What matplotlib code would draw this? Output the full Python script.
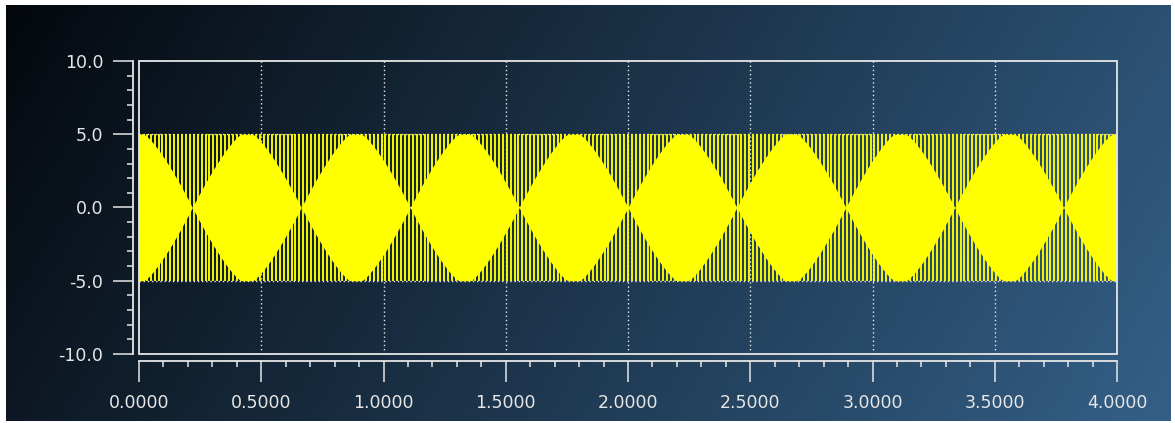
import numpy as np
import matplotlib
matplotlib.use("Agg")
import matplotlib.pyplot as plt
from matplotlib.patches import Rectangle
from matplotlib.ticker import MultipleLocator, FormatStrFormatter, FixedLocator

# ---------------- data ----------------
X_TICKS = [0.0, 0.5, 1.0, 1.5, 2.0, 2.5, 3.0, 3.5, 4.0]
Y_TICKS = [-10.0, -5.0, 0.0, 5.0, 10.0]
X_RANGE = [0.0, 4.0]
Y_RANGE = [-10.0, 10.0]
AMPLITUDE = 5.0            # signal amplitude
SAMPLE_SPACING = 0.016     # x distance between successive signal peaks (stripes)
BEAT_PERIOD = 0.4454       # distance between the aliasing "waists"
BEAT_NODE = 2.0            # x position of one waist
BEAT_RAMP = 0.20           # x distance from a waist to where the band is full again
RAMP_SHAPE = 1.3           # curvature of the band edge

# ---------------- figure ----------------
W, H = 1175, 423
fig = plt.figure(figsize=(W / 100, H / 100), dpi=100, facecolor="white")

# background gradient (whole widget)
gx0, gx1, gy0, gy1 = 6, 1171, 5, 421
bg = fig.add_axes([gx0 / W, (H - gy1) / H, (gx1 - gx0) / W, (gy1 - gy0) / H], zorder=0)
u = np.linspace(0, 1, 600)[None, :]
v = np.linspace(0, 1, 200)[:, None]
t = np.clip(0.82 * u + 0.18 * v, 0, 1)
c0 = np.array([4, 8, 13]) / 255.0
c1 = np.array([52, 96, 136]) / 255.0
img = c0[None, None, :] + (c1 - c0)[None, None, :] * t[:, :, None]
bg.imshow(img, aspect="auto", extent=[0, 1, 0, 1], interpolation="bilinear")
bg.set_axis_off()

# plot canvas
cl, cr, ct, cb = 139, 1117, 61, 354
ax = fig.add_axes([cl / W, (H - cb) / H, (cr - cl) / W, (cb - ct) / H], zorder=1)
ax.patch.set_alpha(0)
ax.set_xlim(*X_RANGE)
ax.set_ylim(*Y_RANGE)

fg = (0.9, 0.9, 0.9)
yellow = (1.0, 1.0, 0.0)

# grid behind the curve
for xv in X_TICKS[1:-1]:
    ax.axvline(xv, color=fg, lw=1.0, ls=(0, (1, 2)), zorder=1)
for yv in Y_TICKS[1:-1]:
    ax.axhline(yv, color=fg, lw=1.0, ls=(0, (1, 2)), zorder=1)

# signal: aliased high-frequency sine (peaks + beat envelope)
x_peaks = np.arange(X_RANGE[0], X_RANGE[1] + 1e-9, SAMPLE_SPACING)
env_x = np.linspace(X_RANGE[0], X_RANGE[1], 4000)
phase = ((env_x - BEAT_NODE) / BEAT_PERIOD + 0.5) % 1.0 - 0.5
dist = np.abs(phase) * BEAT_PERIOD
s = np.minimum(1.0, dist / BEAT_RAMP)
env = AMPLITUDE * (1.0 - (1.0 - s) ** RAMP_SHAPE)
ax.fill_between(env_x, -env, env, color=yellow, lw=0, zorder=2)
ax.vlines(x_peaks, -AMPLITUDE, AMPLITUDE, color=yellow, lw=1.35, zorder=3)

# canvas frame
ax.add_patch(Rectangle((0, 0), 1, 1, transform=ax.transAxes, fill=False,
                       edgecolor=fg, lw=1.3, zorder=5, clip_on=False))

# axes (backbones detached from canvas)
for sp in ["top", "right"]:
    ax.spines[sp].set_visible(False)
ax.spines["left"].set_position(("outward", 4.3))
ax.spines["bottom"].set_position(("outward", 5.0))
for sp in ["left", "bottom"]:
    ax.spines[sp].set_color(fg)
    ax.spines[sp].set_linewidth(1.3)

ax.xaxis.set_major_locator(FixedLocator(X_TICKS))
ax.yaxis.set_major_locator(FixedLocator(Y_TICKS))
ax.xaxis.set_minor_locator(MultipleLocator(0.1))
ax.yaxis.set_minor_locator(MultipleLocator(1.0))
ax.xaxis.set_major_formatter(FormatStrFormatter("%.4f"))
ax.yaxis.set_major_formatter(FormatStrFormatter("%.1f"))

ax.tick_params(axis="x", which="major", direction="out", length=15, width=1.1,
               color=fg, labelcolor=fg, labelsize=12.5, pad=9)
ax.tick_params(axis="x", which="minor", direction="out", length=4.2, width=1.1, color=fg)
ax.tick_params(axis="y", which="major", direction="out", length=14.4, width=1.1,
               color=fg, labelcolor=fg, labelsize=12.5, pad=7)
ax.tick_params(axis="y", which="minor", direction="out", length=4.3, width=1.1, color=fg)

fig.savefig("out.png", dpi=100, facecolor="white")
